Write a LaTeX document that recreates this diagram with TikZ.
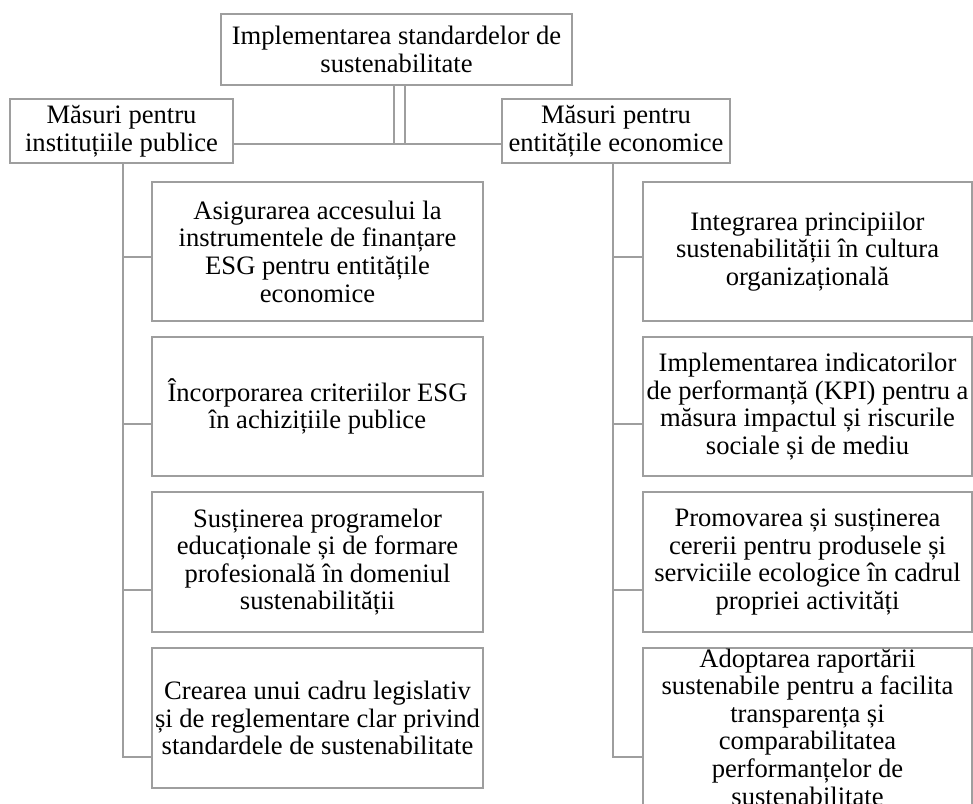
\documentclass[tikz,border=0pt]{standalone}
\usepackage{fontspec}
\setmainfont{Liberation Serif}
\definecolor{linegray}{RGB}{158,158,158}
\begin{document}
\begin{tikzpicture}[x=1pt,y=-1pt,
  box/.style={draw=linegray, line width=2.8pt, inner sep=0pt, align=center,
    font=\fontsize{26.6}{27.6}\selectfont, anchor=center},
  txt/.style={inner sep=0pt, align=center, font=\fontsize{26.6}{27.6}\selectfont, anchor=center},
  conn/.style={draw=linegray, line width=2.8pt}]
\useasboundingbox (0,0) rectangle (973,803);
\clip (0,0) rectangle (973,803);
% top level
\node[box, minimum width=351pt, minimum height=71pt] (top) at (396.5,49.5)
  {Implementarea standardelor de\\sustenabilitate};
\node[box, minimum width=223pt, minimum height=64pt] (L) at (121.5,131)
  {Măsuri pentru\\instituțiile publice};
\node[box, minimum width=228pt, minimum height=64pt] (R) at (616,131)
  {Măsuri pentru\\entitățile economice};
% left column
\node[box, minimum width=331pt, minimum height=139pt] (L1) at (317.5,251.5)
  {Asigurarea accesului la\\instrumentele de finanțare\\ESG pentru entitățile\\economice};
\node[box, minimum width=331pt, minimum height=139pt] (L2) at (317.5,406.5)
  {Încorporarea criteriilor ESG\\în achizițiile publice};
\node[box, minimum width=331pt, minimum height=140pt] (L3) at (317.5,562)
  {Susținerea programelor\\educaționale și de formare\\profesională în domeniul\\sustenabilității};
\node[box, minimum width=331pt, minimum height=140pt] (L4) at (317.5,718)
  {Crearea unui cadru legislativ\\și de reglementare clar privind\\standardele de sustenabilitate};
% right column
\node[box, minimum width=329pt, minimum height=139pt] (R1) at (807.5,251.5)
  {Integrarea principiilor\\sustenabilității în cultura\\organizațională};
\node[box, minimum width=329pt, minimum height=139pt] (R2) at (807.5,406.5)
  {Implementarea indicatorilor\\de performanță (KPI) pentru a\\măsura impactul și riscurile\\sociale și de mediu};
\node[box, minimum width=329pt, minimum height=140pt] (R3) at (807.5,562)
  {Promovarea și susținerea\\cererii pentru produsele și\\serviciile ecologice în cadrul\\propriei activități};
\node[box, minimum width=329pt, minimum height=158pt] (R4) at (807.5,727) {};
\node[txt] (R4t) at (R4.center)
  {Adoptarea raportării\\sustenabile pentru a facilita\\transparența și\\comparabilitatea\\performanțelor de\\sustenabilitate};
% connectors top
\coordinate (dl) at (394,144);
\coordinate (dr) at (405,144);
\draw[conn] (top.south -| dl) -- (dl);
\draw[conn] (top.south -| dr) -- (dr);
\draw[conn] (L.east |- dl) -- (R.west |- dl);
% left branch
\coordinate (la) at (123,257);
\coordinate (lb) at (123,424);
\coordinate (lc) at (123,590);
\coordinate (ld) at (123,757);
\draw[conn] (L.south -| la) -- (ld) -- (ld -| L4.west);
\draw[conn] (la) -- (la -| L1.west);
\draw[conn] (lb) -- (lb -| L2.west);
\draw[conn] (lc) -- (lc -| L3.west);
% right branch
\coordinate (ra) at (613,257);
\coordinate (rb) at (613,424);
\coordinate (rc) at (613,590);
\coordinate (rd) at (613,757);
\draw[conn] (R.south -| ra) -- (rd) -- (rd -| R4.west);
\draw[conn] (ra) -- (ra -| R1.west);
\draw[conn] (rb) -- (rb -| R2.west);
\draw[conn] (rc) -- (rc -| R3.west);
\end{tikzpicture}
\end{document}
